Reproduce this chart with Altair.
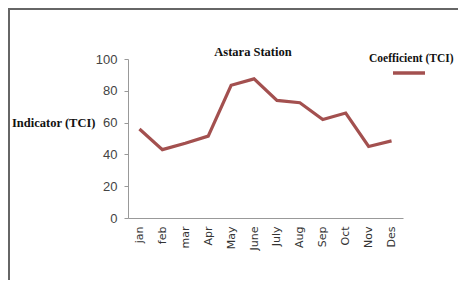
import altair as alt
import pandas as pd

months = ["jan", "feb", "mar", "Apr", "May", "June", "July", "Aug", "Sep", "Oct", "Nov", "Des"]
tci = [56, 43, 47, 51.5, 83.5, 87.5, 74, 72.5, 62, 66, 45, 48.5]
y_ticks = [0, 20, 40, 60, 80, 100]

df = pd.DataFrame({"month": months, "tci": tci})
one = pd.DataFrame({"k": [0]})

W, H = 275, 159
SERIF = "Liberation Serif"
LINE_COLOR = "#a3504f"

line = alt.Chart(df).mark_line(color=LINE_COLOR, strokeWidth=3.2).encode(
    x=alt.X("month:N", sort=months, scale=alt.Scale(type="point", padding=0.5),
            axis=alt.Axis(title=None, labelAngle=-90, labelFontSize=11, labelColor="#333",
                          labelFont="DejaVu Sans", domainColor="#999", tickSize=0,
                          labelPadding=8, grid=False)),
    y=alt.Y("tci:Q", scale=alt.Scale(domain=[0, 100]),
            axis=alt.Axis(title=None, values=y_ticks, labelFontSize=13, labelColor="#444",
                          labelFont="Liberation Sans", domainColor="#999", tickColor="#999",
                          tickSize=4, labelPadding=7, grid=False)),
)

title = alt.Chart(one).mark_text(text="Astara Station", font=SERIF, fontWeight="bold",
                                 fontSize=12.5, color="#111", align="center",
                                 baseline="middle").encode(
    x=alt.value(125), y=alt.value(-7))

ylab = alt.Chart(one).mark_text(text="Indicator (TCI)", font=SERIF, fontWeight="bold",
                                fontSize=12.5, color="#111", align="left",
                                baseline="middle").encode(
    x=alt.value(-116), y=alt.value(64))

legtext = alt.Chart(one).mark_text(text="Coefficient (TCI)", font=SERIF, fontWeight="bold",
                                   fontSize=11.5, color="#111", align="left",
                                   baseline="middle").encode(
    x=alt.value(241), y=alt.value(0))

legline = alt.Chart(one).mark_rule(color=LINE_COLOR, strokeWidth=3.5).encode(
    x=alt.value(265), x2=alt.value(297), y=alt.value(14))

border_left = alt.Chart(one).mark_rule(color="#666", strokeWidth=2).encode(
    x=alt.value(-119), y=alt.value(-50), y2=alt.value(H + 62))
border_top = alt.Chart(one).mark_rule(color="#666", strokeWidth=2).encode(
    x=alt.value(-120), x2=alt.value(W + 55), y=alt.value(-50))

chart = alt.layer(line, title, ylab, legtext, legline, border_left, border_top).properties(
    width=W, height=H,
    autosize=alt.AutoSizeParams(type="none"),
    padding={"left": 120, "top": 51, "right": 55, "bottom": 62},
).configure(background="white").configure_view(strokeWidth=0, stroke="transparent")

chart.save("out.html", embed_options={"renderer": "svg", "actions": False})
